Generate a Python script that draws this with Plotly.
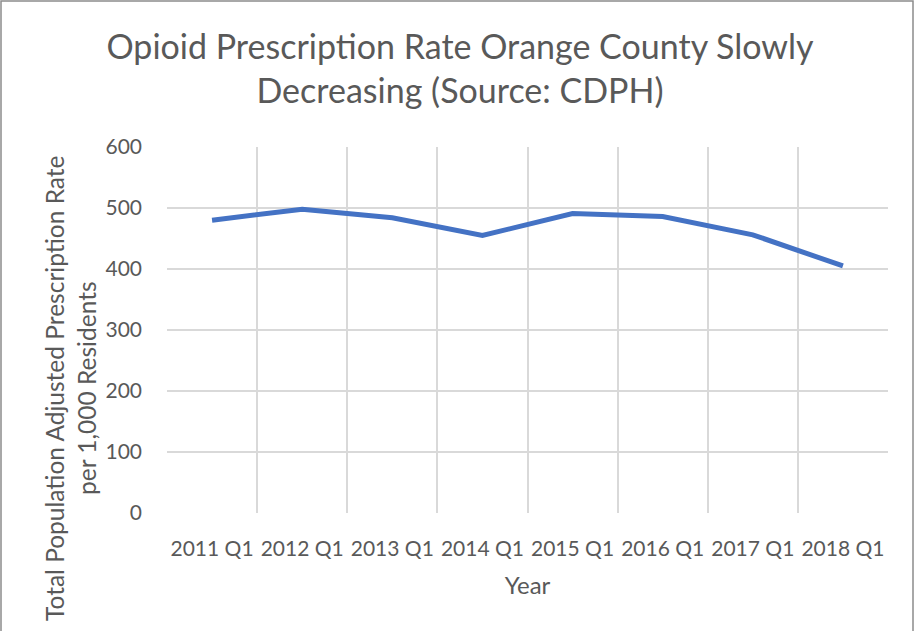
import plotly.graph_objects as go

categories = ["2011 Q1", "2012 Q1", "2013 Q1", "2014 Q1", "2015 Q1", "2016 Q1", "2017 Q1", "2018 Q1"]
rates = [480, 498, 484, 455, 491, 486, 456, 405]
y_ticks = [0, 100, 200, 300, 400, 500, 600]

FONT = "Lato"
GRAY = "#595959"
GRID = "#d9d9d9"

fig = go.Figure()
fig.add_trace(go.Scatter(
    x=categories, y=rates, mode="lines",
    line=dict(color="#4472C4", width=5),
    hoverinfo="x+y",
))

W, H = 915, 631
L, R, T, B = 167, 27, 147, 118
pw, ph = W - L - R, H - T - B

def px_x(x):
    return (x - L) / pw

def px_y(y):
    return (H - B - y) / ph

fig.update_layout(
    width=W, height=H,
    margin=dict(l=L, r=R, t=T, b=B, autoexpand=False),
    paper_bgcolor="white", plot_bgcolor="white",
    showlegend=False,
    font=dict(family=FONT, color=GRAY),
    title=dict(
        text="Opioid Prescription Rate Orange County Slowly<br>Decreasing (Source: CDPH)",
        x=460 / W, xanchor="center", xref="container",
        y=1 - 59 / H, yanchor="middle",
        font=dict(family=FONT, size=34, color=GRAY),
    ),
    xaxis=dict(
        type="category", categoryorder="array", categoryarray=categories,
        range=[-0.5, len(categories) - 0.5],
        tickson="boundaries", showgrid=True, gridcolor=GRID, gridwidth=2,
        ticks="", showline=False, zeroline=False,
        tickangle=0,
        tickfont=dict(family=FONT, size=21, color=GRAY),
        ticklabelstandoff=21,
        title=dict(text="Year", font=dict(family=FONT, size=24, color=GRAY), standoff=18),
    ),
    yaxis=dict(
        range=[0, 600], tickvals=y_ticks,
        showgrid=True, gridcolor=GRID, gridwidth=2,
        ticks="", showline=False, zeroline=False,
        tickfont=dict(family=FONT, size=21, color=GRAY),
        ticklabelstandoff=24,
    ),
)

fig.add_annotation(
    text="Total Population Adjusted Prescription Rate<br>per 1,000 Residents",
    xref="paper", yref="paper",
    x=px_x(70), y=px_y(388), xanchor="center", yanchor="middle",
    textangle=-90, showarrow=False,
    font=dict(family=FONT, size=24.5, color=GRAY),
)

fig.add_shape(
    type="rect", xref="paper", yref="paper",
    x0=px_x(1), x1=px_x(913), y0=px_y(640), y1=px_y(1),
    line=dict(color="#8c8c8c", width=1.5), fillcolor="rgba(0,0,0,0)",
    layer="below",
)

fig.write_html("out.html", post_script="document.body.style.margin='0';",
               config={"displayModeBar": False})
